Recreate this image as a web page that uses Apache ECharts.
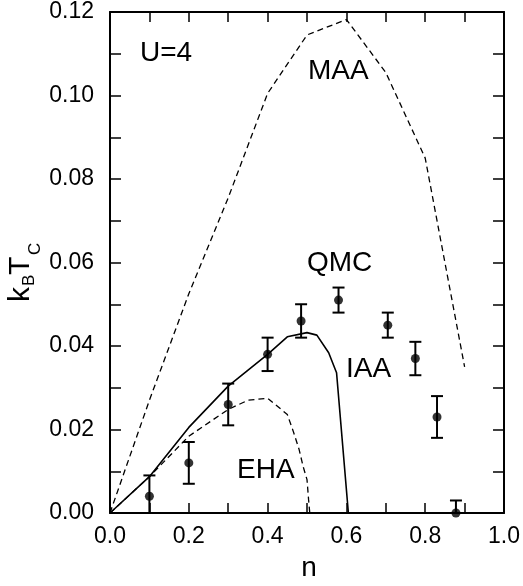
<!DOCTYPE html>
<html>
<head>
<meta charset="utf-8">
<script src="https://cdn.jsdelivr.net/npm/echarts@6/dist/echarts.min.js"></script>
<style>
html,body{margin:0;padding:0;background:#fff;}
#chart{width:523px;height:586px;}
</style>
</head>
<body>
<div id="chart"></div>
<script>
// ---- data ----
const qmcN   = [0.1, 0.2, 0.3, 0.4, 0.485, 0.58, 0.705, 0.775, 0.83, 0.878];
const qmcT   = [0.004, 0.012, 0.026, 0.038, 0.046, 0.051, 0.045, 0.037, 0.023, 0.0];
const qmcErr = [0.005, 0.005, 0.005, 0.004, 0.004, 0.003, 0.003, 0.004, 0.005, 0.003];

const iaaN = [0, 0.1, 0.2, 0.3, 0.4, 0.45, 0.5, 0.525, 0.555, 0.575, 0.605];
const iaaT = [0, 0.0087, 0.0205, 0.0304, 0.038, 0.0422, 0.0432, 0.0426, 0.0384, 0.0336, 0];

const ehaN = [0, 0.1, 0.2, 0.3, 0.35, 0.4, 0.45, 0.465, 0.48, 0.49, 0.5, 0.504, 0.507];
const ehaT = [0, 0.0087, 0.0184, 0.0248, 0.027, 0.0275, 0.0236, 0.0196, 0.0152, 0.0112, 0.008, 0.0032, 0];

const maaN = [0, 0.1, 0.2, 0.3, 0.4, 0.5, 0.6, 0.7, 0.8, 0.9];
const maaT = [0, 0.027, 0.0525, 0.0755, 0.1005, 0.1145, 0.1182, 0.1055, 0.085, 0.035];

const xTicks = [0, 0.2, 0.4, 0.6, 0.8, 1.0];
const yTicks = [0, 0.02, 0.04, 0.06, 0.08, 0.10, 0.12];

// ---- build ----
const FONT = '"Liberation Sans", Arial, Helvetica, sans-serif';
const zip = (a, b) => a.map((v, i) => [v, b[i]]);

const tickStyle = {color: '#000', width: 1.5};
function mkX(pos, labels) {
  return {
    type: 'value', position: pos, min: xTicks[0], max: xTicks[xTicks.length - 1],
    interval: xTicks[1] - xTicks[0],
    axisLine: {show: true, onZero: false, lineStyle: {color: '#000', width: 2}},
    axisTick: {show: true, inside: true, length: 10, lineStyle: tickStyle},
    minorTick: {show: true, splitNumber: 2, length: 10, lineStyle: tickStyle},
    splitLine: {show: false}, minorSplitLine: {show: false},
    axisLabel: {show: labels, formatter: v => v.toFixed(1), fontSize: 23, color: '#000',
      fontFamily: FONT, margin: 12}
  };
}
function mkY(pos, labels) {
  return {
    type: 'value', position: pos, min: yTicks[0], max: yTicks[yTicks.length - 1],
    interval: yTicks[1] - yTicks[0],
    axisLine: {show: true, onZero: false, lineStyle: {color: '#000', width: 2}},
    axisTick: {show: true, inside: true, length: 11, lineStyle: tickStyle},
    minorTick: {show: true, splitNumber: 2, length: 11, lineStyle: tickStyle},
    splitLine: {show: false}, minorSplitLine: {show: false},
    axisLabel: {show: labels, formatter: v => v.toFixed(2), fontSize: 23, color: '#000',
      fontFamily: FONT, margin: 16}
  };
}

const lineBase = {type: 'line', showSymbol: false, symbol: 'none', silent: true, xAxisIndex: 0, yAxisIndex: 0};

function txt(text, x, y, size, align) {
  return {type: 'text', x: x, y: y, silent: true,
    style: {text: text, font: size + 'px ' + FONT, fill: '#000',
      align: align || 'left', verticalAlign: 'middle'}};
}
function rt(text, x, y, size) {
  return {type: 'text', x: x, y: y, silent: true,
    style: {text: text, font: size + 'px ' + FONT, fill: '#000', align: 'left', verticalAlign: 'middle'}};
}

const option = {
  animation: false,
  backgroundColor: '#fff',
  grid: {left: 110, top: 12, width: 397, height: 501, containLabel: false},
  xAxis: [mkX('bottom', true), mkX('top', false)],
  yAxis: [mkY('left', true), mkY('right', false)],
  series: [
    Object.assign({}, lineBase, {name: 'MAA', data: zip(maaN, maaT),
      lineStyle: {color: '#000', width: 1.3, type: [6, 4]}}),
    Object.assign({}, lineBase, {name: 'EHA', data: zip(ehaN, ehaT),
      lineStyle: {color: '#000', width: 1.3, type: [6, 4]}}),
    Object.assign({}, lineBase, {name: 'IAA', data: zip(iaaN, iaaT),
      lineStyle: {color: '#000', width: 1.6, type: 'solid'}}),
    {
      type: 'custom', name: 'QMC err', clip: true, silent: true,
      data: qmcN.map((n, i) => [n, qmcT[i], qmcErr[i]]),
      renderItem: function (params, api) {
        const x = api.value(0), y = api.value(1), e = api.value(2);
        const t = api.coord([x, y + e]);
        const b = api.coord([x, y - e]);
        const h = 6;
        const st = {stroke: '#000', lineWidth: 2};
        return {type: 'group', children: [
          {type: 'line', shape: {x1: t[0], y1: t[1], x2: b[0], y2: b[1]}, style: st},
          {type: 'line', shape: {x1: t[0] - h, y1: t[1], x2: t[0] + h, y2: t[1]}, style: st},
          {type: 'line', shape: {x1: b[0] - h, y1: b[1], x2: b[0] + h, y2: b[1]}, style: st}
        ]};
      }
    },
    {
      type: 'scatter', name: 'QMC', data: zip(qmcN, qmcT), symbol: 'circle', symbolSize: 9,
      clip: false, silent: true, itemStyle: {color: '#000'}
    }
  ],
  graphic: [
    txt('U=4', 140, 53, 28),
    txt('MAA', 308, 71, 28),
    txt('QMC', 307, 263, 28),
    txt('IAA', 346, 369, 28),
    txt('EHA', 237, 470, 28),
    txt('n', 309, 568, 28, 'center'),
    {
      type: 'group', x: 31, y: 302, rotation: Math.PI / 2, silent: true,
      children: [
        rt('k', 0, -10.4, 30),
        rt('B', 16, -1.9, 17),
        rt('T', 27, -10.4, 30),
        rt('C', 47, 4.8, 17)
      ]
    }
  ]
};

const chart = echarts.init(document.getElementById('chart'), null, {renderer: 'canvas'});
chart.setOption(option);
</script>
</body>
</html>
